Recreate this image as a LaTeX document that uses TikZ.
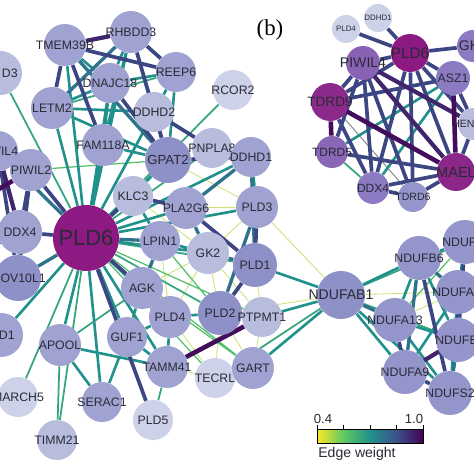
\documentclass[tikz,border=0pt]{standalone}
\usepackage{fontspec}
\setsansfont{Liberation Sans}
\newfontfamily\panelfont{Liberation Serif}
\usetikzlibrary{backgrounds}
\definecolor{txt}{HTML}{2A2A36}
\definecolor{lav}{HTML}{A0A3D1}
\definecolor{lavdk}{HTML}{8E90C8}
\definecolor{lavlt}{HTML}{B8BCDD}
\definecolor{lavxl}{HTML}{CDD2E8}
\definecolor{nduf}{HTML}{9395CB}
\definecolor{pldsix}{HTML}{8C1A82}
\definecolor{pura}{HTML}{8B2A8B}
\definecolor{purb}{HTML}{8A62B4}
\definecolor{purc}{HTML}{8C7AC2}
\definecolor{vir0}{HTML}{FDE725}
\definecolor{vir1}{HTML}{5EC962}
\definecolor{vir2}{HTML}{21918C}
\definecolor{vir3}{HTML}{3B528B}
\definecolor{vir4}{HTML}{440154}
\pgfdeclarehorizontalshading{viridis}{100bp}{color(0bp)=(vir0); color(25bp)=(vir0); color(37.5bp)=(vir1); color(50bp)=(vir2); color(62.5bp)=(vir3); color(75bp)=(vir4); color(100bp)=(vir4)}
\begin{document}
\begin{tikzpicture}[x=0.02cm,y=-0.02cm,
  fs/.style={font=\sffamily\fontsize{#1}{#1}\selectfont},
  gene/.style={circle,inner sep=0pt,minimum size=#1*0.4mm,text=txt,fs=7,
    execute at begin node={\hbox to 0pt\bgroup\hss},execute at end node={\hss\egroup}},
  lbl/.style={inner sep=0pt,text=txt,fs=7},
  ew4/.style={draw=vir0!55!vir1!70!white,line width=0.5pt},
  ew5/.style={draw=vir1!80!vir2,line width=0.7pt},
  ew6/.style={draw=vir1!35!vir2,line width=1pt},
  ew7/.style={draw=vir2,line width=1.5pt},
  ew8/.style={draw=vir2!50!vir3,line width=1.9pt},
  ew9/.style={draw=vir3!85!vir4,line width=2.1pt},
  ew10/.style={draw=vir3!45!vir4,line width=2.4pt},
  ew11/.style={draw=vir4!85!vir3,line width=2.6pt}]
\useasboundingbox (0,0) rectangle (474,474);
\clip (0,0) rectangle (474,474);
% network of PLD6
\node[gene=21,fill=lav] (RHBDD3) at (131,32) {RHBDD3};
\node[gene=21,fill=lav] (TMEM39B) at (65,45) {TMEM39B};
\node[gene=22,fill=lavlt] (LD3) at (0,73) {}; \node[lbl,anchor=east] (LD3t) at (18,73) {D3};
\node[gene=20,fill=lav] (REEP6) at (176,72) {REEP6};
\node[gene=20,fill=lav] (DNAJC18) at (110,83) {DNAJC18};
\node[gene=21,fill=lav] (LETM2) at (52,108) {LETM2};
\node[gene=20,fill=lavlt] (DDHD2) at (154,112) {DDHD2};
\node[gene=20,fill=lavxl] (RCOR2) at (233,90) {RCOR2};
\node[gene=21,fill=lav] (FAM118A) at (103,145) {FAM118A};
\node[gene=23,fill=lavdk,fs=7.5] (GPAT2) at (168,160) {GPAT2};
\node[gene=20,fill=lavlt] (PNPLA8) at (212,148) {PNPLA8};
\node[gene=20,fill=lav] (DDHD1) at (251,157) {DDHD1};
\node[gene=20,fill=lav] (PIWIL4) at (-2,151) {PIWIL4};
\node[gene=21,fill=lav] (PIWIL2) at (31,170) {PIWIL2};
\node[gene=20,fill=lavlt] (KLC3) at (133,196) {KLC3};
\node[gene=21,fill=lav] (PLA2G6) at (186,208) {PLA2G6};
\node[gene=21,fill=lav] (PLD3) at (257,207) {PLD3};
\node[gene=22,fill=lav] (DDX4) at (20,232) {DDX4};
\node[gene=20,fill=lav] (LPIN1) at (160,241) {LPIN1};
\node[gene=21,fill=lavlt] (GK2) at (208,253) {GK2};
\node[gene=22,fill=lavdk] (PLD1) at (255,265) {PLD1};
\node[gene=23,fill=lavdk] (MOV10L1) at (18,278) {MOV10L1};
\node[gene=33,fill=pldsix,fs=12.5] (PLD6) at (86,238) {PLD6};
\node[gene=21,fill=lav] (AGK) at (142,288) {AGK};
\node[gene=21,fill=lav] (PLD4) at (170,317) {PLD4};
\node[gene=22,fill=lavdk] (PLD2) at (220,313) {PLD2};
\node[gene=20,fill=lavlt] (PTPMT1) at (262,317) {PTPMT1};
\node[gene=22,fill=lav] (LND1) at (1,335) {}; \node[lbl,anchor=east] (LND1t) at (15,335) {ND1};
\node[gene=21,fill=lav] (APOOL) at (60,345) {APOOL};
\node[gene=20,fill=lav] (GUF1) at (127,337) {GUF1};
\node[gene=21,fill=lav] (TAMM41) at (167,367) {TAMM41};
\node[gene=20,fill=lavxl] (TECRL) at (215,378) {TECRL};
\node[gene=21,fill=lav] (GART) at (253,368) {GART};
\node[gene=20,fill=lavxl] (MARCH5) at (18,397) {MARCH5};
\node[gene=20,fill=lav] (SERAC1) at (102,402) {SERAC1};
\node[gene=20,fill=lavxl] (PLD5) at (153,420) {PLD5};
\node[gene=20,fill=lavlt] (TIMM21) at (57,440) {TIMM21};
\coordinate (offA) at (-40,212); \coordinate (offB) at (-40,262);
% NDUF cluster
\node[gene=24,fill=lavdk,fs=8] (NDUFAB1) at (341,295) {NDUFAB1};
\node[gene=22,fill=nduf] (NDUFB6) at (419,258) {NDUFB6};
\node[gene=22,fill=nduf] (NDUFT) at (465,242) {}; \node[lbl,anchor=west] (NDUFTt) at (442,242) {NDUF};
\node[gene=22,fill=nduf] (NDUFAR) at (458,292) {}; \node[lbl,anchor=west] (NDUFARt) at (432,292) {NDUFA};
\node[gene=22,fill=nduf] (NDUFA13) at (395,320) {NDUFA13};
\node[gene=22,fill=nduf] (NDUFBR) at (458,340) {}; \node[lbl,anchor=west] (NDUFBRt) at (435,340) {NDUFB};
\node[gene=22,fill=nduf] (NDUFA9) at (405,372) {NDUFA9};
\node[gene=22,fill=nduf] (NDUFS2) at (450,393) {NDUFS2};
% panel (b)
\node[text=black,font=\panelfont\fontsize{13}{13}\selectfont] (panelb) at (270,30) {(b)};
\node[gene=14,fill=lavxl,fs=4.5] (bPLD4) at (346,29) {PLD4};
\node[gene=14,fill=lavxl,fs=4.5] (bDDHD1) at (378,18) {DDHD1};
\node[gene=19,fill=pldsix,fs=8.7] (bPLD6) at (410,53) {PLD6};
\node[gene=16,fill=purc,fs=8] (bGK2) at (473,46) {GK2};
\node[gene=17,fill=purb,fs=8] (bPIWIL4) at (363,63) {PIWIL4};
\node[gene=17,fill=purc,fs=7] (bASZ1) at (453,78) {ASZ1};
\node[gene=19,fill=pura,fs=7.7] (bTDRD9) at (330,102) {TDRD9};
\node[gene=16,fill=lavlt,fs=6] (bHENMT1) at (474,124) {HENMT1};
\node[gene=16,fill=purb!85!purc,fs=6.8] (bTDRD5) at (332,152) {TDRD5};
\node[gene=19,fill=pura!80!pldsix,fs=8.3] (bMAEL) at (456,172) {MAEL};
\node[gene=16,fill=purc,fs=6.8] (bDDX4) at (373,188) {DDX4};
\node[gene=15,fill=nduf,fs=6] (bTDRD6) at (413,197) {TDRD6};
\begin{pgfonlayer}{background}
\fill[white] (0,0) rectangle (474,474);
\clip (0,0) rectangle (474,474);
\draw[ew4] (GPAT2)--(PLD3) (PLA2G6)--(PLD3) (PLD3)--(NDUFAB1) (PLD2)--(NDUFAB1) (PLD1)--(PTPMT1) (GK2)--(PLD2) (GK2)--(PLD4) (GK2)--(AGK) (LPIN1)--(PLD4) (PLD4)--(TECRL) (PLD2)--(TECRL) (PLD2)--(GART) (PTPMT1)--(GART) (TECRL)--(GART) (TAMM41)--(TECRL) (PLD3)--(GK2) (GK2)--(PTPMT1) (PLD1)--(NDUFAB1) (NDUFAR)--(NDUFA13) (NDUFAB1)--(NDUFAR) (KLC3)--(GK2);
\draw[gray,line width=0.5pt] (bTDRD9)--(bTDRD6);
\draw[ew5] (PIWIL2)--(GPAT2) (PLD6)--(PTPMT1) (PLD6)--(TECRL) (LPIN1)--(PLD2) (AGK)--(GART) (PLD6)--(GART) (NDUFT)--(NDUFA13) (NDUFB6)--(NDUFAR);
\draw[ew6] (PLD6)--(LD3) (PLD6)--(RCOR2) (PLD6)--(MARCH5) (PLD6)--(TIMM21) (APOOL)--(TIMM21) (PLD6)--(REEP6) (PLD6)--(PNPLA8) (PLD6)--(PLD2) (PLD6)--(PLD1) (APOOL)--(AGK) (TAMM41)--(PLD5) (TECRL)--(NDUFAB1) (NDUFAB1)--(NDUFT) (NDUFAB1)--(NDUFBR) (bTDRD5)--(bDDX4) (GPAT2)--(KLC3) (LETM2)--(REEP6);
\draw[ew7] (TMEM39B)--(DNAJC18) (RHBDD3)--(DNAJC18) (RHBDD3)--(FAM118A) (DNAJC18)--(REEP6) (DNAJC18)--(LETM2) (DNAJC18)--(FAM118A) (LETM2)--(DDHD2) (LETM2)--(GPAT2) (REEP6)--(GPAT2) (REEP6)--(DDHD2) (FAM118A)--(GPAT2) (PLD6)--(TMEM39B) (PLD6)--(RHBDD3) (PLD6)--(DNAJC18) (PLD6)--(LETM2) (PLD6)--(FAM118A) (PLD6)--(DDHD2) (PLD6)--(GPAT2) (PLD6)--(DDHD1) (PLD6)--(PLA2G6) (PLD6)--(PLD3) (PLD6)--(GK2) (PLD6)--(PLD4) (PLD6)--(TAMM41) (PLD6)--(GUF1) (PLD6)--(SERAC1) (PLD6)--(APOOL) (PLD6)--(LND1) (APOOL)--(TAMM41) (APOOL)--(SERAC1) (GUF1)--(SERAC1) (GUF1)--(TAMM41) (GUF1)--(PLD4) (GUF1)--(AGK) (AGK)--(PLD4) (PLD4)--(TAMM41) (PLD3)--(DDHD1) (GK2)--(LPIN1) (KLC3)--(LPIN1) (PLD2)--(PLD4) (NDUFAB1)--(PTPMT1) (NDUFAB1)--(GART) (NDUFAB1)--(PLD1) (NDUFAB1)--(NDUFB6) (NDUFAB1)--(NDUFA9) (NDUFAB1)--(NDUFS2) (NDUFB6)--(NDUFT) (NDUFB6)--(NDUFA13) (NDUFB6)--(NDUFBR) (NDUFT)--(NDUFAR) (NDUFAR)--(NDUFA9) (NDUFAR)--(NDUFS2) (NDUFA13)--(NDUFBR) (NDUFA13)--(NDUFS2) (bTDRD5)--(bASZ1) (bDDX4)--(bASZ1);
\draw[ew8] (TMEM39B)--(GPAT2) (RHBDD3)--(LETM2) (DDHD2)--(GPAT2) (PLD6)--(LPIN1) (PLD6)--(MOV10L1) (PLD6)--(PIWIL4) (PLD1)--(GK2) (GK2)--(PLA2G6) (DDHD1)--(PLA2G6) (DDHD1)--(PLD1) (LPIN1)--(AGK) (PLD3)--(PLD2) (NDUFAB1)--(NDUFA13) (NDUFB6)--(NDUFA9) (NDUFB6)--(NDUFAR) (NDUFBR)--(NDUFS2);
\draw[ew9] (TMEM39B)--(REEP6) (TMEM39B)--(LETM2) (TMEM39B)--(FAM118A) (RHBDD3)--(REEP6) (RHBDD3)--(GPAT2) (RHBDD3)--(DDHD2) (DNAJC18)--(GPAT2) (DDHD2)--(PNPLA8) (GPAT2)--(DDHD1) (PLD6)--(KLC3) (PLD6)--(AGK) (PLD6)--(PLD5) (PLD6)--(DDX4) (PLD6)--(PIWIL2) (PIWIL2)--(DDX4) (PIWIL2)--(MOV10L1) (DDX4)--(MOV10L1) (PIWIL4)--(MOV10L1) (PLD1)--(PLD2) (PLD1)--(PLD3) (PLD1)--(PLA2G6) (KLC3)--(PLA2G6) (DDX4)--(offB) (NDUFB6)--(NDUFS2) (NDUFT)--(NDUFBR) (NDUFAR)--(NDUFBR) (NDUFA13)--(NDUFA9) (NDUFA9)--(NDUFS2)
  (bPLD6)--(bPLD4) (bPLD6)--(bDDHD1) (bPLD6)--(bGK2) (bPLD6)--(bPIWIL4) (bPLD6)--(bASZ1) (bPLD6)--(bTDRD9) (bPLD6)--(bMAEL) (bPLD6)--(bDDX4) (bPLD6)--(bTDRD6) (bPLD6)--(bHENMT1) (bPIWIL4)--(bTDRD9) (bPIWIL4)--(bTDRD5) (bPIWIL4)--(bDDX4) (bPIWIL4)--(bTDRD6) (bTDRD9)--(bASZ1) (bTDRD9)--(bDDX4) (bTDRD5)--(bMAEL) (bDDX4)--(bMAEL) (bDDX4)--(bTDRD6) (bTDRD6)--(bMAEL) (bASZ1)--(bHENMT1) (bHENMT1)--(bMAEL);
\draw[ew10] (TMEM39B)--(RHBDD3) (PIWIL4)--(PIWIL2) (PIWIL4)--(DDX4) (NDUFBR)--(NDUFA9) (bPIWIL4)--(bMAEL) (bPIWIL4)--(bHENMT1) (MOV10L1)--(offB);
\draw[ew11] (TAMM41)--(PTPMT1) (PIWIL2)--(offA) (bTDRD9)--(bMAEL) (bTDRD9)--(bTDRD5) (bASZ1)--(bMAEL);
\end{pgfonlayer}
% colour bar
\shade[shading=viridis] (317,429) rectangle (423,443);
\draw[black,line width=0.5pt] (317,429) rectangle (423,443);
\foreach \t in {317,343.5,370,396.5,423} \draw[black,line width=0.5pt] (\t,429)--(\t,425);
\node[lbl,fs=7.5,anchor=south] (cblow) at (323,424) {0.4};
\node[lbl,fs=7.5,anchor=south] (cbhigh) at (414,424) {1.0};
\node[lbl,fs=8,anchor=north] (cbtitle) at (357,447) {Edge weight};
\end{tikzpicture}
\end{document}
